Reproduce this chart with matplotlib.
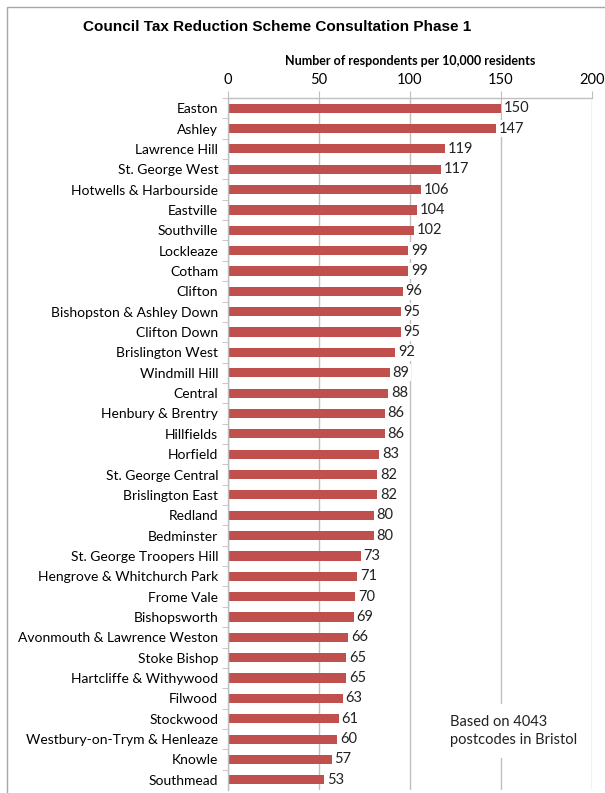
import matplotlib.pyplot as plt
from matplotlib.patches import Rectangle

wards = [
    'Easton', 'Ashley', 'Lawrence Hill', 'St. George West', 'Hotwells & Harbourside',
    'Eastville', 'Southville', 'Lockleaze', 'Cotham', 'Clifton',
    'Bishopston & Ashley Down', 'Clifton Down', 'Brislington West', 'Windmill Hill',
    'Central', 'Henbury & Brentry', 'Hillfields', 'Horfield', 'St. George Central',
    'Brislington East', 'Redland', 'Bedminster', 'St. George Troopers Hill',
    'Hengrove & Whitchurch Park', 'Frome Vale', 'Bishopsworth',
    'Avonmouth & Lawrence Weston', 'Stoke Bishop', 'Hartcliffe & Withywood',
    'Filwood', 'Stockwood', 'Westbury-on-Trym & Henleaze', 'Knowle', 'Southmead',
]
respondents = [
    150, 147, 119, 117, 106, 104, 102, 99, 99, 96,
    95, 95, 92, 89, 88, 86, 86, 83, 82, 82,
    80, 80, 73, 71, 70, 69, 66, 65, 65, 63,
    61, 60, 57, 53,
]
x_ticks = [0, 50, 100, 150, 200]

BAR = '#C0504D'
GRID = '#BFBFBF'
LABEL_FONT = 'Lato'

fig = plt.figure(figsize=(6.05, 7.93), dpi=100)
# outer chart frame
fig.patches.append(Rectangle((7 / 605, -0.01), 1.0, 1 - 7 / 793 + 0.01,
                             transform=fig.transFigure, fill=False,
                             edgecolor='#A6A6A6', linewidth=1.0))

ax = fig.add_axes([228 / 605, 3 / 793, 364 / 605, 692 / 793])
pos = list(range(len(wards)))
ax.barh(pos, respondents, height=0.45, color=BAR, zorder=2)

for y, v in zip(pos, respondents):
    ax.text(v + 1.5, y, str(v), va='center', ha='left', fontsize=10.5,
            family=LABEL_FONT, color='#222222', zorder=3,
            bbox=dict(facecolor='white', edgecolor='none', pad=1.0))

ax.set_xlim(0, 200)
ax.set_ylim(len(wards) - 0.5, -0.5)
ax.xaxis.tick_top()
ax.xaxis.set_label_position('top')
ax.set_xticks(x_ticks)
ax.set_xticklabels([str(t) for t in x_ticks], fontsize=10.5, family=LABEL_FONT)
ax.tick_params(axis='x', direction='out', length=5, color=GRID, pad=3)
ax.set_xlabel('Number of respondents per 10,000 residents', fontsize=9,
              family=LABEL_FONT, fontweight='bold', labelpad=6)

ax.set_yticks(pos)
ax.set_yticklabels(wards, fontsize=10, family=LABEL_FONT)
ax.set_yticks([p + 0.5 for p in pos[:-1]] + [-0.5], minor=True)
ax.tick_params(axis='y', which='major', length=0, pad=7)
ax.tick_params(axis='y', which='minor', direction='out', length=4, color=GRID)

ax.grid(axis='x', color=GRID, linewidth=1.0, zorder=0)
ax.set_axisbelow(True)
for side in ['right', 'bottom']:
    ax.spines[side].set_visible(False)
for side in ['left', 'top']:
    ax.spines[side].set_color(GRID)
    ax.spines[side].set_linewidth(1.0)

ax.text(122, 30.6, 'Based on 4043\npostcodes in Bristol', fontsize=10.5,
        family=LABEL_FONT, color='#222222', va='center', ha='left',
        linespacing=1.3, zorder=3,
        bbox=dict(facecolor='white', edgecolor='none', pad=8))

fig.text(0.458, 1 - 27 / 793, 'Council Tax Reduction Scheme Consultation Phase 1',
         ha='center', va='center', fontsize=11, fontweight='bold',
         family='Liberation Sans')

fig.savefig('out.png', dpi=100)
